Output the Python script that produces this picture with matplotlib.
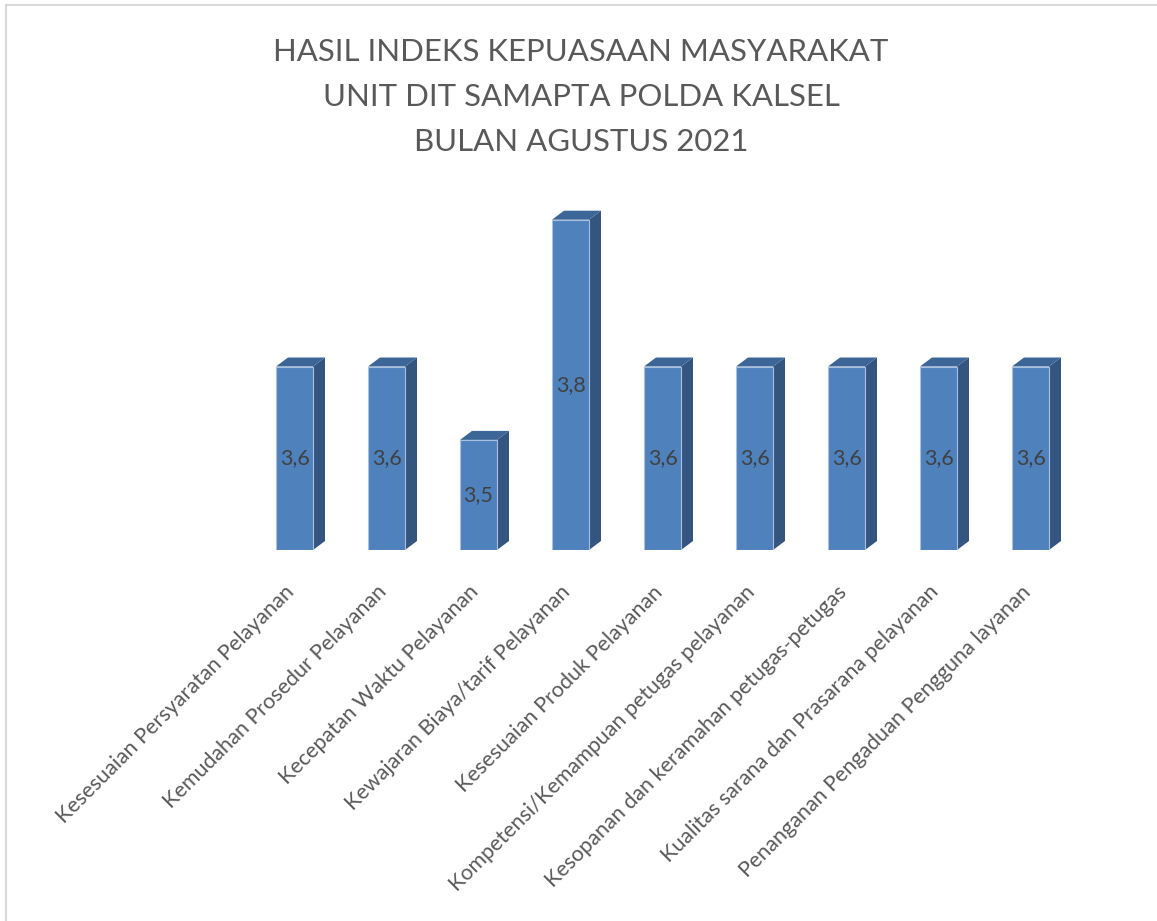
import matplotlib.pyplot as plt
from matplotlib.patches import Polygon, Rectangle
from matplotlib.transforms import ScaledTranslation

# data
categories = [
    'Kesesuaian Persyaratan Pelayanan',
    'Kemudahan Prosedur Pelayanan',
    'Kecepatan Waktu Pelayanan',
    'Kewajaran Biaya/tarif Pelayanan',
    'Kesesuaian Produk Pelayanan',
    'Kompetensi/Kemampuan petugas pelayanan',
    'Kesopanan dan keramahan petugas-petugas',
    'Kualitas sarana dan Prasarana pelayanan',
    'Penanganan Pengaduan Pengguna layanan',
]
values = [3.6, 3.6, 3.5, 3.8, 3.6, 3.6, 3.6, 3.6, 3.6]
title_lines = ['HASIL INDEKS KEPUASAAN MASYARAKAT',
               'UNIT DIT SAMAPTA POLDA KALSEL',
               'BULAN AGUSTUS 2021']

plt.rcParams['font.family'] = ['Lato', 'DejaVu Sans']

W, H = 1157, 921
fig = plt.figure(figsize=(W / 100, H / 100), dpi=100)
fig.patch.set_facecolor('white')

# light chart border (only top and left visible in the crop)
fig.patches.append(Rectangle((6 / W, -0.1), 1.2, 1.1 - 5 / H, transform=fig.transFigure,
                             fill=False, edgecolor='#D9D9D9', linewidth=1.5))

ax_left, ax_w = 248.5 / W, 828 / W
ax_bottom = (H - 550) / H
ymin, ymax = 3.35, 3.9
px_per_unit = 734
ax_h = (ymax - ymin) * px_per_unit / H
ax = fig.add_axes([ax_left, ax_bottom, ax_w, ax_h])
ax.set_xlim(-0.5, len(values) - 0.5)
ax.set_ylim(ymin, ymax)

front = '#4F81BD'
side = '#34557F'
top = '#3D6698'
bar_w = 37 / 92
dx = 12 / 92
dy = 9 / px_per_unit

x = list(range(len(values)))
ax.bar(x, [v - ymin for v in values], bottom=ymin, width=bar_w, color=front,
       edgecolor='#A9C0DE', linewidth=0.8, zorder=3)
for xi, v in zip(x, values):
    xl, xr = xi - bar_w / 2, xi + bar_w / 2
    ax.add_patch(Polygon([(xr, ymin), (xr + dx, ymin + dy), (xr + dx, v + dy), (xr, v)],
                         closed=True, facecolor=side, edgecolor='none', zorder=2))
    ax.add_patch(Polygon([(xl, v), (xl + dx, v + dy), (xr + dx, v + dy), (xr, v)],
                         closed=True, facecolor=top, edgecolor='none', zorder=2))
    ax.text(xi, (ymin + v) / 2, f'{v:.1f}'.replace('.', ','), ha='center', va='center',
            fontsize=15.5, color='#404040', zorder=4)

ax.set_xticks(x)
ax.set_xticklabels(categories, rotation=45, ha='right', va='center', rotation_mode='anchor',
                   fontsize=15.5, color='#595959')
ax.tick_params(axis='x', length=0, pad=28)
shift = ScaledTranslation(-3 / 100, 0, fig.dpi_scale_trans)
for lab in ax.get_xticklabels():
    lab.set_transform(lab.get_transform() + shift)
ax.set_yticks([])
for s in ax.spines.values():
    s.set_visible(False)
ax.patch.set_alpha(0)

for i, line in enumerate(title_lines):
    fig.text(0.5 * (1 + 5 / W), 1 - (61 + 45 * i) / H, line, ha='center', va='baseline',
             fontsize=22.4, color='#595959')

fig.savefig('out.png', dpi=100)
